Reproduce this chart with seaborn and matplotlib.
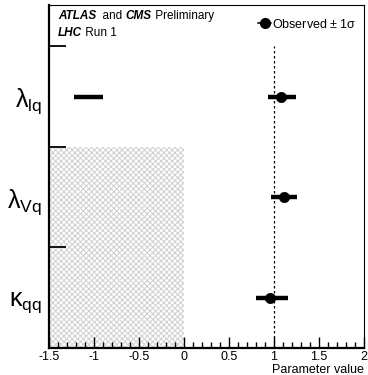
import matplotlib
matplotlib.use("Agg")
import matplotlib.pyplot as plt
import seaborn as sns
import pandas as pd
from matplotlib.lines import Line2D
from matplotlib.ticker import MultipleLocator

# ---- data ----
params = ["kqq", "lVq", "llq"]
param_labels = [r"$\kappa_{\mathrm{qq}}$", r"$\lambda_{\mathrm{Vq}}$", r"$\lambda_{\mathrm{lq}}$"]
row_pos = [0.5, 1.5, 2.5]
best = [0.96, 1.11, 1.08]
err_lo = [0.80, 0.97, 0.93]
err_hi = [1.15, 1.26, 1.24]
# second (negative) interval for lambda_lq
neg_param = ["llq"]
neg_lo = [-1.22]
neg_hi = [-0.90]
# excluded (hatched) region
excl_x = [-1.5, 0.0]
excl_y = [0.0, 2.0]
sm_value = 1.0

sns.set_style("ticks")
plt.rcParams["font.family"] = ["Liberation Sans", "DejaVu Sans"]
plt.rcParams["mathtext.fontset"] = "custom"
plt.rcParams["mathtext.rm"] = "Liberation Sans"
plt.rcParams["mathtext.it"] = "Liberation Sans"
plt.rcParams["mathtext.bf"] = "Liberation Sans:bold"
plt.rcParams["hatch.linewidth"] = 0.7
for k in ["text.color", "axes.labelcolor", "xtick.color", "ytick.color", "axes.edgecolor"]:
    plt.rcParams[k] = "black"

df = pd.DataFrame({"param": params, "y": row_pos, "best": best, "lo": err_lo, "hi": err_hi})
ypos = dict(zip(params, row_pos))

fig = plt.figure(figsize=(3.68, 3.75), dpi=100)
ax = fig.add_axes([49 / 368, 1 - 348 / 375, 315 / 368, 343 / 375])

# hatched region
ax.fill_between(excl_x, excl_y[0], excl_y[1], facecolor="none", edgecolor="#cfcfcf",
                hatch="xxxxxx", linewidth=0, zorder=1)

# SM line
ax.vlines(sm_value, 0, 3, colors="black", linestyles=(0, (2, 2)), linewidth=0.9, zorder=2)

# error bars
ax.hlines(df["y"], df["lo"], df["hi"], colors="black", linewidth=3.2, zorder=3)
ax.hlines([ypos[p] for p in neg_param], neg_lo, neg_hi, colors="black", linewidth=3.2, zorder=3)

# central values
sns.scatterplot(data=df, x="best", y="y", color="black", s=55, edgecolor="black",
                linewidth=0.5, zorder=4, ax=ax, legend=False)

ax.set_xlim(-1.5, 2.0)
ax.set_ylim(0, 3.41)

ax.xaxis.set_major_locator(MultipleLocator(0.5))
ax.xaxis.set_minor_locator(MultipleLocator(0.1))
ax.set_xticklabels([("%g" % v) for v in ax.get_xticks()])
ax.tick_params(axis="x", which="major", direction="in", length=8, width=1, labelsize=9, pad=2)
ax.tick_params(axis="x", which="minor", direction="in", length=4, width=1)

ax.set_yticks(row_pos)
ax.set_yticklabels(param_labels, fontsize=18)
ax.set_yticks([0, 1, 2, 3], minor=True)
ax.tick_params(axis="y", which="major", length=0, pad=5)
ax.tick_params(axis="y", which="minor", direction="in", length=12, width=1.3)
ax.set_axisbelow(False)

for s in ["left", "bottom"]:
    ax.spines[s].set_linewidth(1.6)
for s in ["right", "top"]:
    ax.spines[s].set_linewidth(0.8)

ax.set_xlabel("Parameter value", fontsize=9, loc="right", labelpad=1)
ax.set_ylabel("")

# header text
fs = 8.5
t1 = ax.text(0.028, 0.985, "ATLAS", transform=ax.transAxes, fontsize=fs,
             fontweight="bold", fontstyle="italic", va="top", ha="left")
t2 = ax.annotate("  and ", xy=(1, 0), xycoords=t1, fontsize=fs, va="bottom", ha="left")
t3 = ax.annotate("CMS", xy=(1, 0), xycoords=t2, fontsize=fs, fontweight="bold",
                 fontstyle="italic", va="bottom", ha="left")
t4 = ax.annotate(" Preliminary", xy=(1, 0), xycoords=t3, fontsize=fs, va="bottom", ha="left")
t5 = ax.text(0.028, 0.935, "LHC", transform=ax.transAxes, fontsize=fs,
             fontweight="bold", fontstyle="italic", va="top", ha="left")
ax.annotate(" Run 1", xy=(1, 0), xycoords=t5, fontsize=fs, va="bottom", ha="left")

handle = Line2D([], [], color="black", marker="o", markersize=7, linewidth=1.2)
ax.legend([handle], [r"Observed $\pm$ 1$\sigma$"], loc="upper right",
          bbox_to_anchor=(1.0, 0.985), frameon=False, fontsize=9,
          handlelength=1.0, handletextpad=0.1, borderaxespad=0.2)

fig.savefig("out.png", dpi=100)
